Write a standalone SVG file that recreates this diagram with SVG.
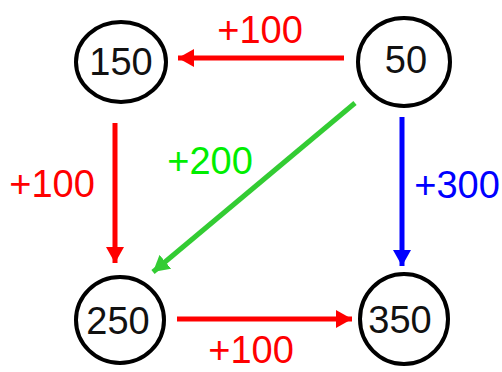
<svg xmlns="http://www.w3.org/2000/svg" width="502" height="372" viewBox="0 0 502 372">
<style>
.node ellipse{fill:#fff;stroke:#000;stroke-width:4}
.node text{font-family:"Liberation Sans",Arial,sans-serif;font-size:38px;fill:#111;text-anchor:middle}
.lbl{font-family:"Liberation Sans",Arial,sans-serif;font-size:38px;text-anchor:middle}
.edge{stroke-width:5;fill:none}
</style>
<defs>
<marker id="ar" markerUnits="userSpaceOnUse" viewBox="0 0 16 18" refX="16" refY="9" markerWidth="16" markerHeight="18" orient="auto"><path d="M0,0 L16,9 L0,18 Z" fill="#ff0000"/></marker>
<marker id="ag" markerUnits="userSpaceOnUse" viewBox="0 0 16 18" refX="16" refY="9" markerWidth="16" markerHeight="18" orient="auto"><path d="M0,0 L16,9 L0,18 Z" fill="#33cc33"/></marker>
<marker id="ab" markerUnits="userSpaceOnUse" viewBox="0 0 16 18" refX="16" refY="9" markerWidth="16" markerHeight="18" orient="auto"><path d="M0,0 L16,9 L0,18 Z" fill="#0000ff"/></marker>
</defs>
<g id="connectors">
<line class="edge" x1="344" y1="58" x2="178" y2="58" stroke="#ff0000" marker-end="url(#ar)"/>
<line class="edge" x1="115" y1="123" x2="115" y2="263" stroke="#ff0000" marker-end="url(#ar)"/>
<line class="edge" x1="355" y1="103" x2="153" y2="272" stroke="#33cc33" marker-end="url(#ag)"/>
<line class="edge" x1="402" y1="117" x2="402" y2="266" stroke="#0000ff" marker-end="url(#ab)"/>
<line class="edge" x1="177" y1="319" x2="352" y2="319" stroke="#ff0000" marker-end="url(#ar)"/>
<text class="lbl" x="260" y="43" fill="#ff0000">+100</text>
<text class="lbl" x="52" y="197" fill="#ff0000">+100</text>
<text class="lbl" x="210" y="174" fill="#00ee00">+200</text>
<text class="lbl" x="457" y="198" fill="#0000ff">+300</text>
<text class="lbl" x="251" y="363" fill="#ff0000">+100</text>
</g>
<g id="n150" class="node"><ellipse cx="121" cy="62" rx="45" ry="40"/><text x="121" y="75">150</text></g>
<g id="n50" class="node"><ellipse cx="404" cy="62" rx="46" ry="44"/><text x="406" y="73">50</text></g>
<g id="n250" class="node"><ellipse cx="120" cy="320" rx="44" ry="43"/><text x="118" y="334">250</text></g>
<g id="n350" class="node"><ellipse cx="404" cy="319" rx="44" ry="45"/><text x="400" y="333">350</text></g>
</svg>
